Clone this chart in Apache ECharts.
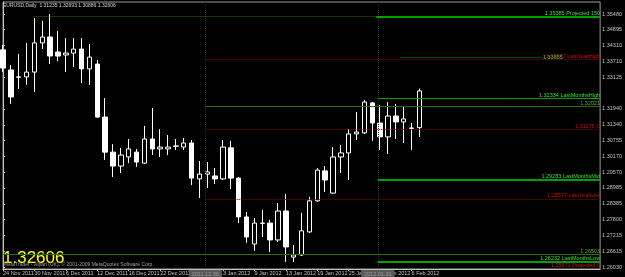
<!DOCTYPE html>
<html>
<head>
<meta charset="utf-8">
<script src="https://cdn.jsdelivr.net/npm/echarts@6/dist/echarts.min.js"></script>
<style>
  html, body { margin: 0; padding: 0; background: #000; }
  #chart { width: 625px; height: 277px; }
</style>
</head>
<body>
<div id="chart"></div>
<script>
// bar dates (last 23 are empty future slots on the chart)
const dates = [
  '24 Nov 2011', '25 Nov 2011', '28 Nov 2011', '29 Nov 2011', '30 Nov 2011',
  '1 Dec 2011', '2 Dec 2011', '5 Dec 2011', '6 Dec 2011', '7 Dec 2011', '8 Dec 2011', '9 Dec 2011',
  '12 Dec 2011', '13 Dec 2011', '14 Dec 2011', '15 Dec 2011', '16 Dec 2011',
  '19 Dec 2011', '20 Dec 2011', '21 Dec 2011', '22 Dec 2011', '23 Dec 2011',
  '26 Dec 2011', '27 Dec 2011', '28 Dec 2011', '29 Dec 2011', '30 Dec 2011',
  '2 Jan 2012', '3 Jan 2012', '4 Jan 2012', '5 Jan 2012', '6 Jan 2012',
  '9 Jan 2012', '10 Jan 2012', '11 Jan 2012', '12 Jan 2012', '13 Jan 2012',
  '16 Jan 2012', '17 Jan 2012', '18 Jan 2012', '19 Jan 2012', '20 Jan 2012',
  '23 Jan 2012', '24 Jan 2012', '25 Jan 2012', '26 Jan 2012', '27 Jan 2012',
  '30 Jan 2012', '31 Jan 2012', '1 Feb 2012', '2 Feb 2012', '3 Feb 2012',
  '6 Feb 2012', '7 Feb 2012',
  '8 Feb 2012', '9 Feb 2012', '10 Feb 2012', '13 Feb 2012', '14 Feb 2012', '15 Feb 2012',
  '16 Feb 2012', '17 Feb 2012', '20 Feb 2012', '21 Feb 2012', '22 Feb 2012', '23 Feb 2012',
  '24 Feb 2012', '27 Feb 2012', '28 Feb 2012', '29 Feb 2012', '1 Mar 2012', '2 Mar 2012',
  '5 Mar 2012', '6 Mar 2012', '7 Mar 2012', '8 Mar 2012', '9 Mar 2012'
]

const opens = [
  1.3414, 1.3339, 1.3313, 1.3313, 1.3331, 1.3440, 1.3462, 1.3406, 1.3395, 1.3402,
  1.3417, 1.3343, 1.3361, 1.3163, 1.3032, 1.2980, 1.3014, 1.3032, 1.2991, 1.3081,
  1.3044, 1.3044, 1.3055, 1.3051, 1.3066, 1.2932, 1.2950, 1.2943, 1.2932, 1.3048,
  1.2935, 1.2790, 1.2689, 1.2767, 1.2767, 1.2704, 1.2812, 1.2640, 1.2648, 1.2734,
  1.2850, 1.2962, 1.2879, 1.3014, 1.3029, 1.3100, 1.3104, 1.3216, 1.3141, 1.3089,
  1.3167, 1.3145, 1.3122, 1.31235
]
const closes = [
  1.3346, 1.3238, 1.3312, 1.3331, 1.3440, 1.3462, 1.3391, 1.3391, 1.3402, 1.3417,
  1.3343, 1.3387, 1.3163, 1.3032, 1.2980, 1.3021, 1.3044, 1.2995, 1.3081, 1.3044,
  1.3051, 1.3051, 1.3054, 1.3066, 1.2935, 1.2950, 1.2958, 1.2932, 1.3051, 1.2935,
  1.2790, 1.2715, 1.2767, 1.2766, 1.2704, 1.2812, 1.2678, 1.2648, 1.2738, 1.2850,
  1.2965, 1.2928, 1.3014, 1.3029, 1.3100, 1.3107, 1.3219, 1.3141, 1.3089, 1.3167,
  1.3145, 1.3156, 1.3121, 1.32606
]
const lows = [
  1.3331, 1.3212, 1.3268, 1.3283, 1.3257, 1.3417, 1.3361, 1.3372, 1.3331, 1.3350,
  1.3290, 1.3283, 1.3160, 1.3003, 1.2939, 1.2954, 1.2991, 1.2977, 1.2988, 1.3021,
  1.3014, 1.3021, 1.3040, 1.3040, 1.2909, 1.2861, 1.2898, 1.2913, 1.2928, 1.2894,
  1.2767, 1.2693, 1.2663, 1.2715, 1.2659, 1.2696, 1.2622, 1.2622, 1.2644, 1.2730,
  1.2846, 1.2883, 1.2876, 1.2954, 1.2928, 1.3077, 1.3100, 1.3074, 1.3040, 1.3025,
  1.3081, 1.3066, 1.3040, 1.30886
]
const highs = [
  1.3432, 1.3357, 1.3399, 1.3440, 1.3533, 1.3522, 1.3548, 1.3485, 1.3458, 1.3458,
  1.3458, 1.3436, 1.3376, 1.3234, 1.3062, 1.3048, 1.3081, 1.3044, 1.3130, 1.3197,
  1.3118, 1.3096, 1.3081, 1.3085, 1.3077, 1.2999, 1.2995, 1.2973, 1.3077, 1.3074,
  1.2939, 1.2808, 1.2786, 1.2816, 1.2779, 1.2842, 1.2876, 1.2685, 1.2805, 1.2865,
  1.2973, 1.2980, 1.3051, 1.3059, 1.3118, 1.3182, 1.3227, 1.3219, 1.3208, 1.3219,
  1.3212, 1.3204, 1.3141, 1.32693
]

// right price scale labels
const priceTicks = [
  1.35480, 1.34895, 1.34310, 1.33710, 1.33125, 1.31940, 1.31340, 1.30755, 1.30170,
  1.29570, 1.28985, 1.28385, 1.27800, 1.27215, 1.26615, 1.26030
]

// horizontal levels drawn by the indicator
const levelPrices = [1.35385, 1.35385, 1.33855, 1.33777, 1.32334, 1.32021, 1.31175, 1.29283, 1.28577, 1.26503, 1.26232, 1.25971]
const levelTexts = [
  '', '1.35385 Projected 150', '1.33855', '1.33777 LastYearHigh', '1.32334 LastMonthsHigh', '1.32021',
  '1.31175 C', '1.29283 LastMonthsMid', '1.28577 LastYearLow', '1.26503', '1.26232 LastMonthsLow', '1.25971 Projected 0'
]

// period separators (bar position) and their time marks
const separatorBars = [25.75, 47.7]
const separatorTexts = ['2011.12.30', '2012.01.31']

const symbol = 'EURUSD,Daily'
const last = closes.length - 1
const lastPrice = closes[last]

// where each level starts/ends (in bar units) and how it is drawn
const GREEN = '#00a000', DKGREEN = '#2e6b10', DKRED = '#8a0000'
const levelStyles = [
  { from: 3.9, to: 47.5, color: DKGREEN, width: 1, type: 'dotted', text: DKGREEN },
  { from: 47.5, to: 76, color: GREEN, width: 2, type: 'solid', text: '#3ae03a' },
  { from: 50.6, to: 68.6, color: GREEN, width: 1, type: 'dotted', text: '#3ae03a', outside: true },
  { from: 25.75, to: 76, color: DKRED, width: 1, type: 'dotted', text: '#d01010' },
  { from: 47.7, to: 76, color: GREEN, width: 1, type: 'solid', text: '#3ae03a' },
  { from: 25.75, to: 76, color: DKGREEN, width: 1, type: 'solid', text: '#5aa82a' },
  { from: 25.75, to: 76, color: DKRED, width: 1, type: 'dotted', text: '#d01010' },
  { from: 47.7, to: 76, color: GREEN, width: 2, type: 'solid', text: '#3ae03a' },
  { from: 25.75, to: 76, color: DKRED, width: 1, type: 'dotted', text: '#d01010' },
  { from: 0, to: 76, color: DKGREEN, width: 1, type: 'solid', text: '#5aa82a' },
  { from: 47.7, to: 76, color: GREEN, width: 2, type: 'solid', text: '#3ae03a' },
  { from: 47.7, to: 76, color: 'transparent', width: 1, type: 'solid', text: '#e01010' }
]

const FONT = 'Liberation Sans'
const AXIS = '#c0c0c0'

const candles = opens.map((o, i) => [o, closes[i], lows[i], highs[i]])

const levelLines = levelPrices.map((p, i) => {
  const s = levelStyles[i]
  return [
    {
      coord: [s.from, p],
      lineStyle: { color: s.color, width: s.width, type: s.type },
      label: {
        show: !!levelTexts[i],
        formatter: levelTexts[i],
        position: s.outside ? 'end' : 'insideEndTop',
        distance: s.outside ? 1 : 0,
        color: s.text,
        fontSize: 5.5,
        fontFamily: FONT,
      },
    },
    { coord: [s.to, p] },
  ]
})

const separators = separatorBars.map((b, i) => ({
  xAxis: b,
  lineStyle: { color: '#303030', width: 1, type: 'dotted' },
  label: {
    show: true,
    position: 'start',
    formatter: separatorTexts[i],
    distance: 1,
    backgroundColor: '#5a5a5a',
    color: '#9a9a9a',
    padding: [1, 3],
    fontSize: 5.5,
    fontFamily: FONT,
  },
}))

const chart = echarts.init(document.getElementById('chart'))

chart.setOption({
  backgroundColor: '#000',
  animation: false,
  grid: {
    left: 2,
    right: 18,
    top: 2,
    bottom: 8,
    show: true,
    borderColor: '#9a9a9a',
    borderWidth: 1,
  },
  xAxis: [
    {
      type: 'category',
      data: dates,
      boundaryGap: false,
      axisLine: { lineStyle: { color: AXIS } },
      axisTick: {
        show: true,
        length: 2,
        interval: (i) => i % 4 === 0 && i <= last,
        lineStyle: { color: AXIS },
      },
      axisLabel: {
        interval: (i) => i % 4 === 0 && i <= last,
        align: 'left',
        color: AXIS,
        fontSize: 5.5,
        fontFamily: FONT,
        margin: 1,
      },
      splitLine: { show: false },
    },
    { type: 'value', min: 0, max: dates.length - 1, show: false },
  ],
  yAxis: {
    type: 'value',
    position: 'right',
    min: 1.25955,
    max: 1.35928,
    splitLine: { show: false },
    axisLine: { show: true, lineStyle: { color: AXIS } },
    axisTick: { show: true, length: 2, customValues: priceTicks, lineStyle: { color: AXIS } },
    axisLabel: {
      customValues: priceTicks,
      formatter: (v) => v.toFixed(5),
      color: AXIS,
      fontSize: 5.5,
      fontFamily: FONT,
      margin: 2,
    },
  },
  graphic: [
    {
      type: 'text',
      left: 3,
      top: 3,
      style: {
        text: `${symbol}  ${opens[last].toFixed(5)} ${highs[last].toFixed(5)} ${lows[last].toFixed(5)} ${lastPrice.toFixed(5)}`,
        fill: '#d0d0d0',
        font: `5px "${FONT}"`,
      },
    },
    {
      type: 'text',
      left: 3,
      top: 250,
      style: { text: lastPrice.toFixed(5), fill: '#ffff00', font: `17px "${FONT}"` },
    },
    {
      type: 'text',
      left: 4,
      top: 262,
      style: {
        text: 'MetaTrader - Alpari (UK), © 2001-2009 MetaQuotes Software Corp.',
        fill: '#a0a0a0',
        font: `5px "${FONT}"`,
      },
    },
  ],
  series: [
    {
      type: 'line',
      xAxisIndex: 1,
      data: [],
      silent: true,
      markLine: {
        silent: true,
        symbol: ['none', 'none'],
        animation: false,
        data: [...separators, ...levelLines],
      },
    },
    {
      type: 'candlestick',
      xAxisIndex: 0,
      data: candles,
      barWidth: 5,
      itemStyle: {
        color: '#000',
        color0: '#fff',
        borderColor: '#fff',
        borderColor0: '#fff',
        borderWidth: 1,
      },
      markLine: {
        silent: true,
        symbol: ['none', 'none'],
        animation: false,
        data: [
          {
            yAxis: lastPrice,
            lineStyle: { opacity: 0 },
            label: {
              show: true,
              position: 'end',
              distance: 1,
              formatter: lastPrice.toFixed(5),
              backgroundColor: '#e8e8e8',
              color: '#000',
              padding: [1, 2],
              fontSize: 5.5,
              fontFamily: FONT,
            },
          },
        ],
      },
    },
  ],
})
</script>
</body>
</html>
